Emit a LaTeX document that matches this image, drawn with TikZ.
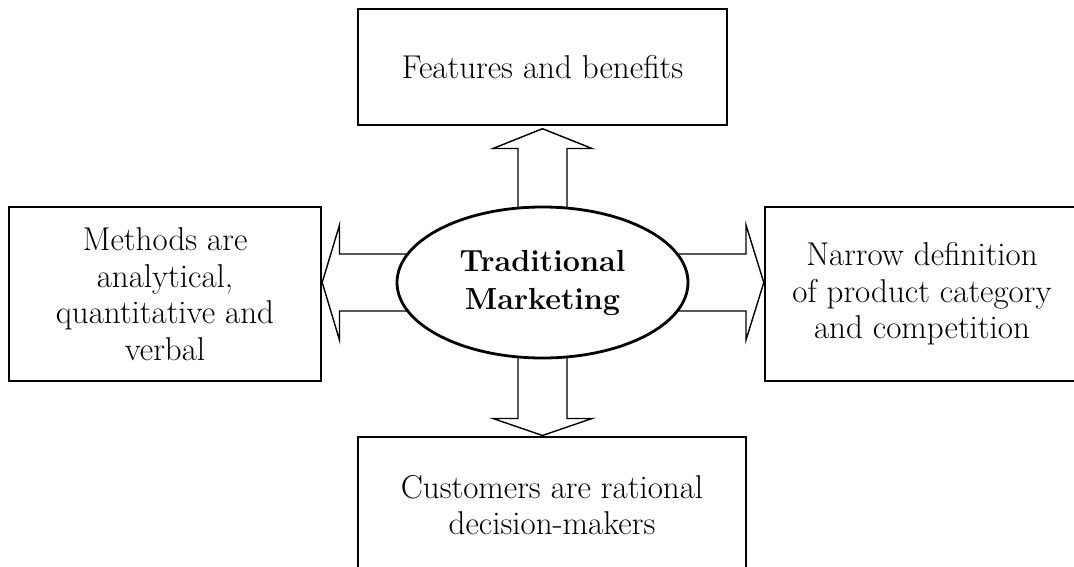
\documentclass[tikz,border=0pt]{standalone}
\usetikzlibrary{shapes.geometric,calc}
\begin{document}
\begin{tikzpicture}[x=1pt,y=-1pt,
  box/.style={draw=black,line width=1.4pt,rectangle,inner sep=0pt,align=center,
    font=\fontsize{33}{36.5}\selectfont},
  blockarrow/.style={draw=black,fill=white,line width=1.4pt,line join=miter},
  hub/.style={draw=black,fill=white,ellipse,line width=2.8pt,inner sep=0pt,
    minimum width=291pt,minimum height=151pt,align=center,
    font=\fontsize{30.5}{38}\selectfont\bfseries}]
\clip (0,0) rectangle (1074,567);
\useasboundingbox (0,0) rectangle (1074,567);
% boxes
\node[box,minimum width=369pt,minimum height=116pt] (top) at (542.5,67) {Features and benefits};
\node[box,minimum width=312pt,minimum height=174pt] (left) at (165,294) {Methods are\\analytical,\\quantitative and\\verbal};
\node[box,minimum width=314pt,minimum height=174pt] (right) at (922,294) {Narrow definition\\of product category\\and competition};
\node[box,minimum width=388pt,minimum height=136pt] (bottom) at (552,505) {Customers are rational\\decision-makers};
% center coordinate
\coordinate (c) at (542.5,282.5);
% arrows
\draw[blockarrow] ($(c)+(-24.5,0)$) -- ($(c)+(-24.5,-134)$) -- ($(c)+(-49.5,-134)$)
  -- ($(top.south)+(0,3)$) -- ($(c)+(49.5,-134)$) -- ($(c)+(24.5,-134)$)
  -- ($(c)+(24.5,0)$) -- cycle;
\draw[blockarrow] ($(c)+(-24.5,0)$) -- ($(c)+(-24.5,136)$) -- ($(c)+(-49.5,136)$)
  -- ($(c)+(0,153)$) -- ($(c)+(49.5,136)$) -- ($(c)+(24.5,136)$)
  -- ($(c)+(24.5,0)$) -- cycle;
\draw[blockarrow] ($(c)+(0,-28.5)$) -- ($(c)+(-203,-28.5)$) -- ($(c)+(-203,-57.5)$)
  -- ($(left.east |- c)+(0.5,0)$) -- ($(c)+(-203,57.5)$) -- ($(c)+(-203,28.5)$)
  -- ($(c)+(0,28.5)$) -- cycle;
\draw[blockarrow] ($(c)+(0,-28.5)$) -- ($(c)+(203.5,-28.5)$) -- ($(c)+(203.5,-57.5)$)
  -- ($(right.west |- c)+(-0.5,0)$) -- ($(c)+(203.5,57.5)$) -- ($(c)+(203.5,28.5)$)
  -- ($(c)+(0,28.5)$) -- cycle;
% hub
\node[hub] (tm) at (c) {Traditional\\Marketing};
\end{tikzpicture}
\end{document}
